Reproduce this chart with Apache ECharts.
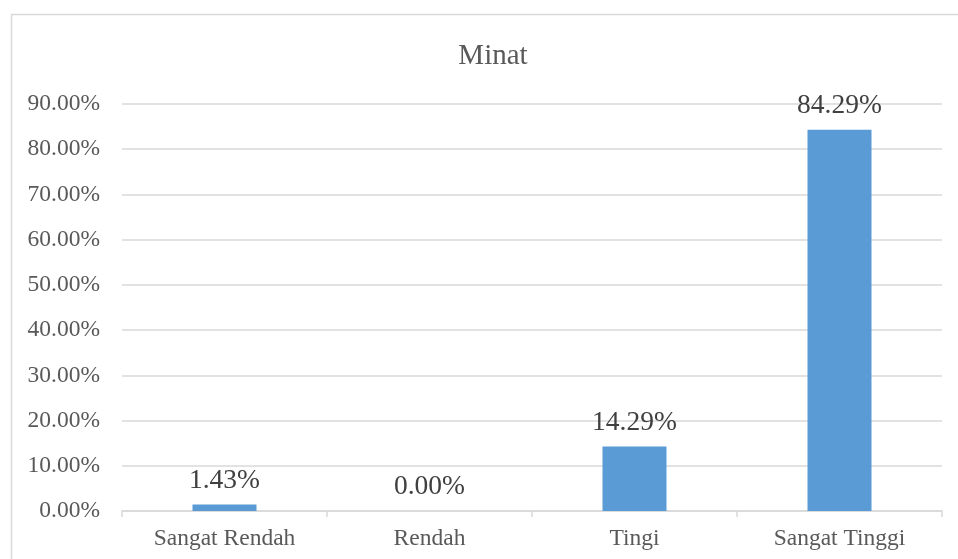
<!DOCTYPE html>
<html>
<head>
<meta charset="utf-8">
<script src="https://cdn.jsdelivr.net/npm/echarts@6/dist/echarts.min.js"></script>
<style>
  html, body { margin: 0; padding: 0; background: #fff; }
  #chart { width: 958px; height: 559px; }
</style>
</head>
<body>
<div id="chart"></div>
<script>
// data
var categories = ['Sangat Rendah', 'Rendah', 'Tingi', 'Sangat Tinggi'];
var minatValues = [1.43, 0.00, 14.29, 84.29];

var serif = '"Liberation Serif", "Times New Roman", serif';
var myChart = echarts.init(document.getElementById('chart'));
myChart.setOption({
    animation: false,
    title: {
        text: 'Minat',
        left: 488,
        top: 37,
        textAlign: 'center',
        textStyle: { fontFamily: serif, fontSize: 29, fontWeight: 'normal', color: '#595959' }
    },
    graphic: [{
        type: 'rect',
        shape: { x: 11.5, y: 14.5, width: 960, height: 560 },
        style: { fill: 'none', stroke: '#d9d9d9', lineWidth: 1.5 }
    }],
    grid: { left: 122, right: 16, top: 104, bottom: 48 },
    xAxis: {
        type: 'category',
        data: categories,
        axisLine: { lineStyle: { color: '#d9d9d9', width: 1.5 } },
        axisTick: { show: true, length: 6, lineStyle: { color: '#d9d9d9', width: 1.5 } },
        axisLabel: { fontFamily: serif, fontSize: 23.5, color: '#595959', margin: 16 }
    },
    yAxis: {
        type: 'value',
        min: 0,
        max: 90,
        interval: 10,
        axisLine: { show: false },
        axisTick: { show: false },
        splitLine: { lineStyle: { color: '#d9d9d9', width: 1.5 } },
        axisLabel: {
            fontFamily: serif, fontSize: 23.5, color: '#595959', margin: 22,
            formatter: function (v) { return v.toFixed(2) + '%'; }
        }
    },
    series: [{
        type: 'bar',
        data: minatValues,
        barWidth: 64,
        itemStyle: { color: '#5b9bd5' },
        label: {
            show: true,
            position: 'top',
            distance: 10,
            fontFamily: serif,
            fontSize: 27.5,
            color: '#404040',
            formatter: function (p) { return p.value.toFixed(2) + '%'; }
        }
    }]
});
</script>
</body>
</html>
